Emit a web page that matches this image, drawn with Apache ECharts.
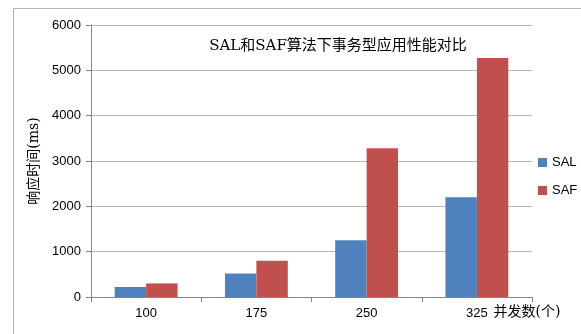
<!DOCTYPE html>
<html>
<head>
<meta charset="utf-8">
<script src="https://cdn.jsdelivr.net/npm/echarts@6/dist/echarts.min.js"></script>
<style>
html,body{margin:0;padding:0;background:#fff;}
#main{width:581px;height:334px;}
</style>
</head>
<body>
<div id="main"></div>
<script>
var categories = ['100', '175', '250', '325'];
var salValues = [220, 520, 1250, 2200];
var safValues = [300, 800, 3280, 5270];
var yTicks = [0, 6000, 1000];

var myChart = echarts.init(document.getElementById('main'));
var option = {
    animation: false,
    backgroundColor: '#fff',
    title: {
        text: 'SAL和SAF算法下事务型应用性能对比',
        left: 333,
        top: 34,
        textAlign: 'center',
        textStyle: {
            color: '#000',
            fontSize: 15,
            fontWeight: 'normal',
            fontFamily: 'DejaVu Serif, Noto Sans CJK SC'
        }
    },
    graphic: [{
        type: 'rect',
        shape: {x: 13.5, y: 8.5, width: 700, height: 500},
        style: {fill: 'none', stroke: '#b4b4b4', lineWidth: 1},
        silent: true
    }],
    color: ['#4f81bd', '#c0504d'],
    legend: {
        orient: 'vertical',
        left: 533,
        top: 151,
        icon: 'rect',
        itemWidth: 9,
        itemHeight: 9,
        itemGap: 15,
        textStyle: {color: '#000', fontSize: 13, fontFamily: 'Liberation Sans, Noto Sans'},
        data: ['SAL', 'SAF']
    },
    grid: {left: 91, right: 49, top: 25, bottom: 37},
    xAxis: {
        type: 'category',
        data: categories,
        name: '并发数(个)',
        nameLocation: 'end',
        nameGap: -42,
        nameTextStyle: {
            color: '#000',
            fontSize: 14,
            fontFamily: 'DejaVu Serif, Noto Sans CJK SC',
            verticalAlign: 'top',
            padding: [8, 0, 0, 0],
            align: 'left'
        },
        axisLine: {lineStyle: {color: '#868686'}},
        axisTick: {show: true, length: 5, lineStyle: {color: '#868686'}},
        axisLabel: {color: '#000', fontSize: 13, margin: 10, fontFamily: 'Liberation Sans, Noto Sans'}
    },
    yAxis: {
        type: 'value',
        min: yTicks[0],
        max: yTicks[1],
        interval: yTicks[2],
        name: '响应时间(ms)',
        nameLocation: 'middle',
        nameGap: 48,
        nameRotate: 90,
        nameTextStyle: {color: '#000', fontSize: 14, fontFamily: 'DejaVu Serif, Noto Sans CJK SC'},
        axisLine: {show: true, lineStyle: {color: '#868686'}},
        axisTick: {show: true, length: 5, lineStyle: {color: '#868686'}},
        axisLabel: {
            color: '#000', fontSize: 13, margin: 10, fontFamily: 'Liberation Sans, Noto Sans',
            formatter: function (v) { return String(v); }
        },
        splitLine: {lineStyle: {color: '#b9b9b9'}}
    },
    series: [
        {
            name: 'SAL',
            type: 'bar',
            data: salValues,
            barGap: '0%',
            barCategoryGap: '43%'
        },
        {
            name: 'SAF',
            type: 'bar',
            data: safValues
        }
    ]
};
myChart.setOption(option);
</script>
</body>
</html>
